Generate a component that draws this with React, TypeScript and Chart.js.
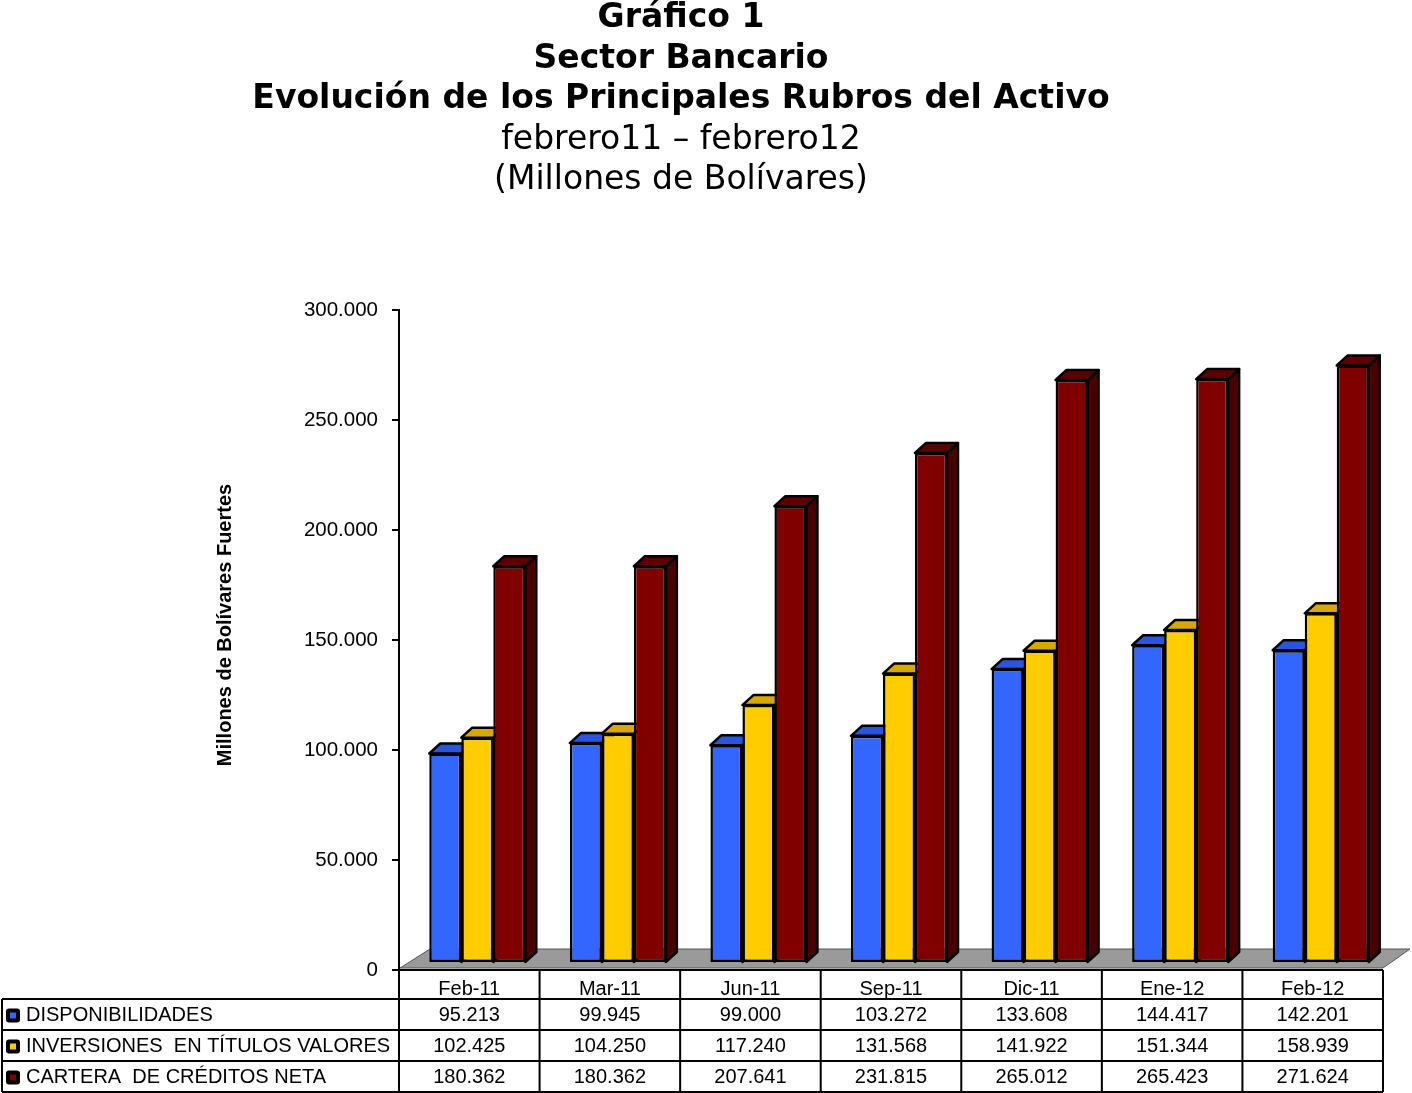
import { useEffect, useRef } from 'react';
import { Chart, registerables } from 'chart.js';

Chart.register(...registerables);

const categories = ['Feb-11', 'Mar-11', 'Jun-11', 'Sep-11', 'Dic-11', 'Ene-12', 'Feb-12'];
const seriesNames = ['DISPONIBILIDADES', 'INVERSIONES  EN TÍTULOS VALORES', 'CARTERA  DE CRÉDITOS NETA'];
const disponibilidades = [95213, 99945, 99000, 103272, 133608, 144417, 142201];
const inversiones = [102425, 104250, 117240, 131568, 141922, 151344, 158939];
const cartera = [180362, 180362, 207641, 231815, 265012, 265423, 271624];
const yTicks = { min: 0, max: 300000, step: 50000 };

const frontColors = ['#3366FF', '#FFCC00', '#800000'];
const topColors = ['#2A55DD', '#D9A800', '#5E0000'];
const sideColors = ['#1E3FA8', '#A68000', '#4A0000'];

const TABLE_FONT = '20px "Liberation Sans", Arial, sans-serif';
const depth = { dx: 11, dy: 10 };
const shift = { x: 8, y: -7 };

const fmt = (v: number) => String(v).replace(/\B(?=(\d{3})+(?!\d))/g, '.');

const bars3d = {
  id: 'bars3d',
  beforeDatasetsDraw(chart: any) {
    const { ctx, chartArea } = chart;
    const fy = chartArea.bottom - 2;
    // floor
    ctx.save();
    ctx.beginPath();
    ctx.moveTo(chartArea.left + 1, fy);
    ctx.lineTo(chartArea.left + 31, fy - 19);
    ctx.lineTo(chartArea.right + 27, fy - 19);
    ctx.lineTo(chartArea.right, fy);
    ctx.closePath();
    ctx.fillStyle = '#9a9a9a';
    ctx.fill();
    ctx.strokeStyle = '#555555';
    ctx.lineWidth = 1;
    ctx.stroke();
    ctx.restore();

    ctx.save();
    ctx.translate(shift.x, shift.y);
    ctx.lineWidth = 2.5;
    ctx.lineJoin = 'round';
    ctx.strokeStyle = '#000';
    const n = chart.data.labels.length;
    for (let i = 0; i < n; i++) {
      chart.data.datasets.forEach((_: any, d: number) => {
        const el = chart.getDatasetMeta(d).data[i];
        const { x, y, base, width } = el.getProps(['x', 'y', 'base', 'width'], true);
        const x0 = x - width / 2;
        const x1 = x + width / 2;
        // side
        ctx.beginPath();
        ctx.moveTo(x1, y);
        ctx.lineTo(x1 + depth.dx, y - depth.dy);
        ctx.lineTo(x1 + depth.dx, base - depth.dy);
        ctx.lineTo(x1, base);
        ctx.closePath();
        ctx.fillStyle = sideColors[d];
        ctx.fill();
        ctx.stroke();
        // top
        ctx.beginPath();
        ctx.moveTo(x0, y);
        ctx.lineTo(x0 + depth.dx, y - depth.dy);
        ctx.lineTo(x1 + depth.dx, y - depth.dy);
        ctx.lineTo(x1, y);
        ctx.closePath();
        ctx.fillStyle = topColors[d];
        ctx.fill();
        ctx.stroke();
      });
    }
  },
  afterDatasetsDraw(chart: any) {
    chart.ctx.restore();
  },
  afterDraw(chart: any) {
    const { ctx, chartArea } = chart;
    const xs = chart.scales.x;
    const n = categories.length;
    const colW = (chartArea.right - chartArea.left) / n;
    const top = chartArea.bottom;
    const rows = [top, top + 29, top + 60, top + 91, top + 122];
    const legendLeft = 2;

    ctx.save();
    ctx.strokeStyle = '#000';
    ctx.lineWidth = 2;
    ctx.beginPath();
    ctx.moveTo(chartArea.left, rows[0]);
    ctx.lineTo(chartArea.right, rows[0]);
    for (let r = 1; r < rows.length; r++) {
      ctx.moveTo(legendLeft, rows[r]);
      ctx.lineTo(chartArea.right, rows[r]);
    }
    ctx.moveTo(legendLeft, rows[1]);
    ctx.lineTo(legendLeft, rows[4]);
    for (let k = 0; k <= n; k++) {
      const bx = chartArea.left + k * colW;
      ctx.moveTo(bx, rows[0]);
      ctx.lineTo(bx, rows[4]);
    }
    ctx.stroke();

    const series = [disponibilidades, inversiones, cartera];
    ctx.font = TABLE_FONT;
    ctx.fillStyle = '#000';
    ctx.textBaseline = 'middle';
    series.forEach((vals, s) => {
      const cy = (rows[s + 1] + rows[s + 2]) / 2 + 1;
      // legend key
      ctx.fillStyle = '#000';
      ctx.beginPath();
      ctx.roundRect(6, cy - 7, 14, 14, 3);
      ctx.fill();
      ctx.fillStyle = frontColors[s];
      ctx.fillRect(10, cy - 3, 6, 6);
      ctx.fillStyle = '#000';
      ctx.textAlign = 'left';
      ctx.fillText(seriesNames[s], 26, cy);
      ctx.textAlign = 'center';
      vals.forEach((v, i) => {
        ctx.fillText(fmt(v), xs.getPixelForValue(i), cy);
      });
    });

    // y axis title
    ctx.save();
    ctx.translate(225, 625);
    ctx.rotate(-Math.PI / 2);
    ctx.font = 'bold 20px "Liberation Sans", Arial, sans-serif';
    ctx.textAlign = 'center';
    ctx.textBaseline = 'middle';
    ctx.fillText('Millones de Bolívares Fuertes', 0, 0);
    ctx.restore();
    ctx.restore();
  },
};

const BarChart3D = () => {
  const chartRef = useRef<HTMLCanvasElement | null>(null);
  const chartInstance = useRef<Chart | null>(null);

  useEffect(() => {
    if (!chartRef.current) return;
    const ctx = chartRef.current.getContext('2d');
    if (!ctx) return;
    if (chartInstance.current) chartInstance.current.destroy();

    chartInstance.current = new Chart(ctx, {
      type: 'bar',
      data: {
        labels: categories,
        datasets: [disponibilidades, inversiones, cartera].map((vals, i) => ({
          label: seriesNames[i],
          data: vals,
          backgroundColor: frontColors[i],
          borderColor: '#000',
          borderWidth: 2.5,
          borderSkipped: false,
          categoryPercentage: 0.683,
          barPercentage: 1,
          clip: false as any,
        })),
      },
      options: {
        responsive: false,
        animation: false,
        layout: { padding: { top: 310, right: 29, bottom: 0, left: 0 } },
        plugins: {
          legend: { display: false },
          tooltip: { enabled: false },
        },
        scales: {
          x: {
            grid: { display: false },
            border: { display: false },
            ticks: {
              color: '#000',
              font: { family: '"Liberation Sans", Arial, sans-serif', size: 20 },
              padding: -1,
              maxRotation: 0,
            },
            afterFit: (scale: any) => {
              scale.height = 123;
            },
          },
          y: {
            min: yTicks.min,
            max: yTicks.max,
            grid: { drawOnChartArea: false, color: '#000', lineWidth: 2, tickLength: 7 },
            border: { color: '#000', width: 2 },
            ticks: {
              stepSize: yTicks.step,
              color: '#000',
              padding: 14,
              font: { family: '"Liberation Sans", Arial, sans-serif', size: 20.5 },
              callback: (v: any) => fmt(Number(v)),
            },
            afterFit: (scale: any) => {
              scale.width = 399;
            },
          },
        },
      },
      plugins: [bars3d],
    } as any);

    return () => {
      if (chartInstance.current) {
        chartInstance.current.destroy();
        chartInstance.current = null;
      }
    };
  }, []);

  return (
    <div style={{ position: 'absolute', left: 0, top: 0, width: 1412, height: 1093, background: '#fff', overflow: 'hidden' }}>
      <canvas ref={chartRef} width={1412} height={1093} style={{ position: 'absolute', left: 0, top: 0, width: 1412, height: 1093 }} />
      <div
        style={{
          position: 'absolute',
          left: 0,
          top: -4,
          width: 1362,
          textAlign: 'center',
          fontFamily: '"DejaVu Sans", Verdana, sans-serif',
          fontSize: 33,
          lineHeight: '40.5px',
          color: '#000',
        }}
      >
        <div style={{ fontWeight: 'bold' }}>Gráfico 1</div>
        <div style={{ fontWeight: 'bold' }}>Sector Bancario</div>
        <div style={{ fontWeight: 'bold' }}>Evolución de los Principales Rubros del Activo</div>
        <div>febrero11 – febrero12</div>
        <div>(Millones de Bolívares)</div>
      </div>
    </div>
  );
};

export default function App() {
  return <BarChart3D />;
}
